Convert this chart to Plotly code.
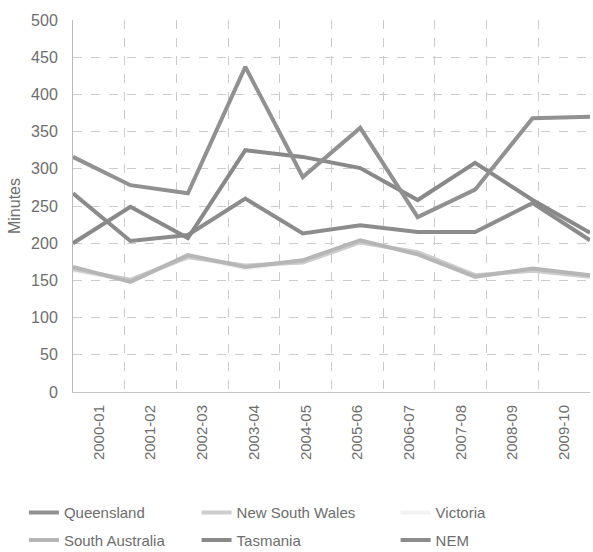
import plotly.graph_objects as go

# Financial years (x categories)
periods = ['2000-01', '2001-02', '2002-03', '2003-04', '2004-05',
           '2005-06', '2006-07', '2007-08', '2008-09', '2009-10']

# Minutes off supply
queensland = [316, 278, 267, 437, 289, 355, 235, 272, 368, 370]
nsw = [165, 151, 181, 170, 174, 201, 188, 157, 163, 155]
victoria = [163, 150, 183, 166, 176, 203, 187, 154, 165, 156]
south_australia = [168, 148, 184, 168, 177, 204, 185, 155, 166, 157]
tasmania = [200, 249, 207, 325, 316, 301, 258, 308, 258, 214]
nem = [267, 203, 211, 260, 213, 224, 215, 215, 254, 204]

y_ticks = [0, 50, 100, 150, 200, 250, 300, 350, 400, 450, 500]

# name, values, colour, legend column, row (drawing order = list order)
series = [
    ('Victoria', victoria, '#f3f3f3', 'legend3', 1),
    ('New South Wales', nsw, '#cdcdcd', 'legend2', 1),
    ('South Australia', south_australia, '#b6b6b6', 'legend', 2),
    ('NEM', nem, '#8c8c8c', 'legend3', 2),
    ('Tasmania', tasmania, '#898989', 'legend2', 2),
    ('Queensland', queensland, '#919191', 'legend', 1),
]

txt = dict(family='Liberation Sans, Arial, sans-serif', size=15, color='#6e6e6e')
grid = '#cccccc'

fig = go.Figure()
# empty trace carrying the category labels for the boundary-gridded axis
fig.add_trace(go.Scatter(x=periods, y=[None] * len(periods), mode='lines',
                         showlegend=False, hoverinfo='skip'))
for name, vals, color, leg, row in series:
    fig.add_trace(go.Scatter(x=periods, y=vals, mode='lines', name=name,
                             line=dict(color=color, width=4),
                             xaxis='x2', legend=leg, legendrank=row,
                             legendgroup=name))

legend_common = dict(orientation='v', xanchor='left', yanchor='top', y=-0.28,
                     font=txt, tracegroupgap=5, bgcolor='rgba(0,0,0,0)')

fig.update_layout(
    width=593, height=552,
    margin=dict(l=73, r=3, t=20, b=160, autoexpand=False),
    paper_bgcolor='white', plot_bgcolor='white',
    font=txt,
    # label axis: categories centred between dashed boundary lines
    xaxis=dict(type='category', range=[-0.5, len(periods) - 0.5], tickson='boundaries',
               tickangle=-90, showgrid=True, gridcolor=grid, griddash='dash',
               zeroline=False, showline=True, linecolor='#c4c4c4', linewidth=1,
               ticks='', ticklabelstandoff=6, tickfont=txt, automargin=False),
    # data axis: first and last year on the plot edges
    xaxis2=dict(type='category', overlaying='x', range=[0, len(periods) - 1],
                visible=False, showgrid=False),
    yaxis=dict(range=[0, 500], tickvals=y_ticks, showgrid=True, gridcolor=grid,
               griddash='dash', zeroline=False, showline=True, linecolor='#b8b8b8',
               ticks='', ticklabelstandoff=11, tickfont=dict(size=16), automargin=False,
               title=dict(text='Minutes', standoff=6, font=dict(size=16))),
    legend=dict(x=-0.095, **legend_common),
    legend2=dict(x=0.239, **legend_common),
    legend3=dict(x=0.624, **legend_common),
)

# drop the page's default body margin so the figure sits at the window origin
fig.write_html('out.html', config={'displayModeBar': False},
               post_script="document.body.style.margin='0px';")
